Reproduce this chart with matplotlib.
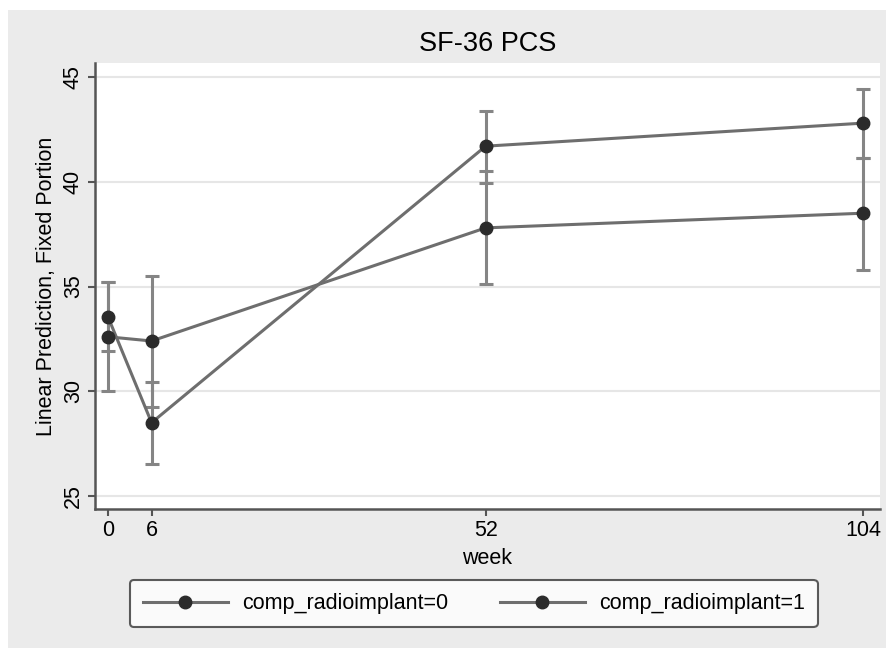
import numpy as np
import matplotlib.pyplot as plt
from matplotlib.patches import Rectangle

plt.rcParams['font.family'] = ['Liberation Sans', 'DejaVu Sans']

# data
weeks = [0, 6, 52, 104]
pred_0 = [33.55, 28.5, 41.7, 42.8]
lo_0 = [31.9, 26.55, 39.95, 41.15]
hi_0 = [35.2, 30.45, 43.4, 44.45]
pred_1 = [32.6, 32.4, 37.8, 38.5]
lo_1 = [30.0, 29.25, 35.1, 35.8]
hi_1 = [35.2, 35.5, 40.5, 41.15]
labels = ['comp_radioimplant=0', 'comp_radioimplant=1']

fig = plt.figure(figsize=(8.87, 6.48), dpi=100, facecolor='white')
# grey graph region (thin white strip at top and left as in the scan)
fig.patches.append(Rectangle((8/887, 0), 1 - 8/887, 1 - 10/648, transform=fig.transFigure,
                             facecolor='#ebebeb', edgecolor='none', zorder=-10))
ax = fig.add_axes([95/887, 1-509/648, 785/887, 446/648])
ax.set_facecolor('white')

line_c = '#6e6e6e'
bar_c = '#858585'
dot_c = '#2b2b2b'

for pred, lo, hi, lab in [(pred_0, lo_0, hi_0, labels[0]), (pred_1, lo_1, hi_1, labels[1])]:
    pred = np.array(pred)
    err = [pred - np.array(lo), np.array(hi) - pred]
    ax.errorbar(weeks, pred, yerr=err, fmt='none', ecolor=bar_c, elinewidth=2.2,
                capsize=5, capthick=2.2, zorder=2)
    ax.plot(weeks, pred, color=line_c, lw=2.2, marker='o', markersize=9,
            markerfacecolor=dot_c, markeredgecolor=dot_c, label=lab, zorder=3)

ax.set_xlim(-1.79, 106.3)
ax.set_ylim(24.38, 45.67)
ax.set_xticks(weeks)
ax.set_yticks([25, 30, 35, 40, 45])
ax.yaxis.grid(True, color='#e6e6e6', lw=1.5)
ax.set_axisbelow(True)
for s in ['top', 'right']:
    ax.spines[s].set_visible(False)
for s in ['left', 'bottom']:
    ax.spines[s].set_color('#555555')
    ax.spines[s].set_linewidth(1.8)
ax.tick_params(axis='both', length=5, width=1.5, color='#555555', labelsize=15.5, pad=3)
plt.setp(ax.get_yticklabels(), rotation=90, va='center')
ax.set_xlabel('week', fontsize=15.5, labelpad=5)
ax.set_ylabel('Linear Prediction, Fixed Portion', fontsize=15.5, labelpad=4)
ax.set_title('SF-36 PCS', fontsize=19.5, pad=9)

leg = fig.legend(loc='lower left', bbox_to_anchor=(130/887, 1-627/648),
                 ncol=2, fontsize=15.5, frameon=True, fancybox=True,
                 handlelength=3.95, handletextpad=0.65, columnspacing=2.4,
                 borderpad=0.6, borderaxespad=0)
leg.get_frame().set_edgecolor('#333333')
leg.get_frame().set_linewidth(1.5)

fig.savefig('out.png', dpi=100, facecolor=fig.get_facecolor())
